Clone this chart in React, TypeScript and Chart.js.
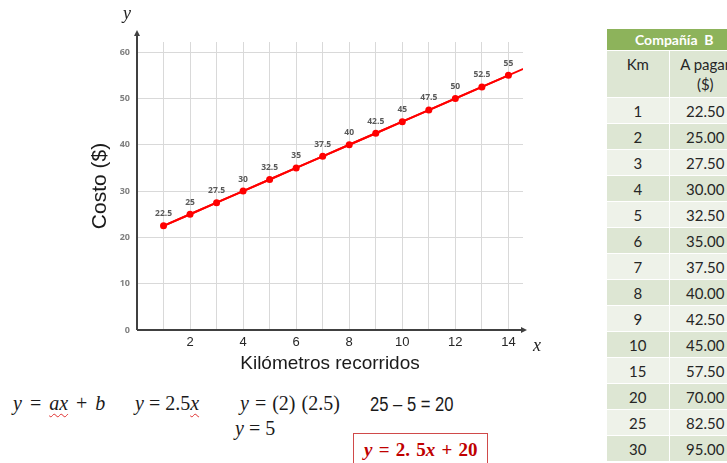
import React, { useEffect, useRef } from "react";
import { Chart, registerables } from "chart.js";

Chart.register(...registerables);

// ---- Data ----
const kmChart = [1, 2, 3, 4, 5, 6, 7, 8, 9, 10, 11, 12, 13, 14];
const costChart = [22.5, 25, 27.5, 30, 32.5, 35, 37.5, 40, 42.5, 45, 47.5, 50, 52.5, 55];
const tableKm = [1, 2, 3, 4, 5, 6, 7, 8, 9, 10, 15, 20, 25, 30];
const tableCost = [22.5, 25, 27.5, 30, 32.5, 35, 37.5, 40, 42.5, 45, 57.5, 70, 82.5, 95];
const xTickLabels = [2, 4, 6, 8, 10, 12, 14];
const yTickStep = 10;
const xMax = 14.55;
const yMax = 62.2;

const axesPlugin = {
  id: "axesArrows",
  beforeDatasetsDraw(chart: any) {
    const { ctx, chartArea } = chart;
    const l = chartArea.left;
    const b = chartArea.bottom;
    const topEnd = chartArea.top - 12;
    const rightEnd = chartArea.right + 4;
    ctx.save();
    ctx.strokeStyle = "#404040";
    ctx.fillStyle = "#404040";
    ctx.lineWidth = 2;
    ctx.beginPath();
    ctx.moveTo(l, b);
    ctx.lineTo(l, topEnd + 4);
    ctx.moveTo(l, b);
    ctx.lineTo(rightEnd - 4, b);
    ctx.stroke();
    ctx.beginPath();
    ctx.moveTo(l, topEnd);
    ctx.lineTo(l - 3, topEnd + 6);
    ctx.lineTo(l + 3, topEnd + 6);
    ctx.closePath();
    ctx.fill();
    ctx.beginPath();
    ctx.moveTo(rightEnd, b);
    ctx.lineTo(rightEnd - 6, b - 3);
    ctx.lineTo(rightEnd - 6, b + 3);
    ctx.closePath();
    ctx.fill();
    ctx.restore();
  },
};

const labelsPlugin = {
  id: "pointLabels",
  afterDatasetsDraw(chart: any) {
    const { ctx } = chart;
    const meta = chart.getDatasetMeta(0);
    ctx.save();
    ctx.fillStyle = "#595959";
    ctx.font = "bold 8.5px 'Open Sans'";
    ctx.textAlign = "center";
    ctx.textBaseline = "middle";
    meta.data.forEach((el: any, i: number) => {
      ctx.fillText(String(costChart[i]), el.x, el.y - 12);
    });
    ctx.restore();
  },
};

function CostChart() {
  const ref = useRef<HTMLCanvasElement | null>(null);
  useEffect(() => {
    if (!ref.current) return;
    const chart = new Chart(ref.current, {
      type: "line",
      data: {
        datasets: [
          {
            label: "Compañía B",
            data: kmChart.map((x, i) => ({ x, y: costChart[i] })),
            borderColor: "#ff0000",
            backgroundColor: "#ff0000",
            borderWidth: 2,
            pointRadius: 3.5,
            pointHoverRadius: 3.5,
            pointBorderWidth: 0,
            tension: 0,
            order: 0,
          },
          {
            label: "Tabla",
            data: tableKm.map((x, i) => ({ x, y: tableCost[i] })),
            borderColor: "#ff0000",
            borderWidth: 2,
            pointRadius: 0,
            pointHoverRadius: 0,
            tension: 0,
            clip: 0,
            order: 1,
          },
        ],
      },
      options: {
        responsive: false,
        animation: false,
        events: [],
        layout: { padding: { top: 42, right: 37, left: 0, bottom: 0 } },
        plugins: { legend: { display: false }, tooltip: { enabled: false } },
        scales: {
          x: {
            type: "linear",
            min: 0,
            max: xMax,
            afterFit: (s: any) => {
              s.height = 50;
            },
            border: { display: false },
            grid: { color: "#d9d9d9", drawTicks: false, lineWidth: 1 },
            ticks: {
              stepSize: 1,
              includeBounds: false,
              autoSkip: false,
              maxRotation: 0,
              padding: 5,
              color: "#262626",
              font: { family: "'Liberation Sans', Arial", size: 13 },
              callback: (v: any) => (xTickLabels.includes(Number(v)) ? String(v) : ""),
            },
            title: {
              display: true,
              text: "Kilómetros recorridos",
              color: "#1a1a1a",
              font: { family: "'Liberation Sans', Arial", size: 19 },
              padding: { top: 0, bottom: 5 },
            },
          },
          y: {
            type: "linear",
            min: 0,
            max: yMax,
            afterFit: (s: any) => {
              s.width = 137;
            },
            border: { display: false },
            grid: { color: "#d9d9d9", drawTicks: false, lineWidth: 1 },
            ticks: {
              stepSize: yTickStep,
              includeBounds: false,
              padding: 7,
              color: "#808080",
              font: { family: "'Open Sans'", size: 9, weight: "bold" },
            },
            title: {
              display: true,
              text: "Costo ($)",
              color: "#1a1a1a",
              font: { family: "'Liberation Sans', Arial", size: 21 },
              padding: { top: 88, bottom: 0 },
            },
          },
        },
      },
      plugins: [axesPlugin, labelsPlugin],
    } as any);
    return () => chart.destroy();
  }, []);
  return (
    <canvas
      ref={ref}
      width={560}
      height={380}
      style={{ position: "absolute", left: 0, top: 0, width: 560, height: 380 }}
    />
  );
}

const serif = "'Liberation Serif', 'DejaVu Serif', serif";
const wavy: React.CSSProperties = {
  textDecorationLine: "underline",
  textDecorationStyle: "wavy",
  textDecorationColor: "#e03030",
  textDecorationThickness: "1px",
  textUnderlineOffset: "3px",
};

function Table() {
  const light = "#eef2e9";
  const dark = "#dde6d3";
  const cellFont = "'Lato', 'Open Sans', sans-serif";
  return (
    <div
      style={{
        position: "absolute",
        left: 607,
        top: 29,
        width: 134,
        fontFamily: cellFont,
        color: "#262626",
        fontSize: 15,
      }}
    >
      <div
        style={{
          height: 22,
          background: "#8db35b",
          color: "#ffffff",
          fontWeight: "bold",
          fontSize: 14,
          lineHeight: "22px",
          paddingLeft: 28,
          boxSizing: "border-box",
          borderBottom: "1px solid #ffffff",
        }}
      >
        Compañía&nbsp;&nbsp;B
      </div>
      <div style={{ display: "flex", height: 47, background: dark, borderBottom: "1px solid #fff", boxSizing: "border-box" }}>
        <div style={{ width: 62, borderRight: "1px solid #fff", textAlign: "center", lineHeight: "20px", paddingTop: 3 }}>Km</div>
        <div style={{ width: 72, textAlign: "center", lineHeight: "20px", paddingTop: 3 }}>
          A pagar
          <br />
          ($)
        </div>
      </div>
      {tableKm.map((k, i) => (
        <div
          key={k}
          style={{
            display: "flex",
            height: 26,
            background: i % 2 === 0 ? light : dark,
            borderBottom: "1px solid #fff",
            boxSizing: "border-box",
            lineHeight: "26px",
          }}
        >
          <div style={{ width: 62, borderRight: "1px solid #fff", textAlign: "center" }}>{k}</div>
          <div style={{ width: 72, textAlign: "center" }}>{tableCost[i].toFixed(2)}</div>
        </div>
      ))}
    </div>
  );
}

const eqBase: React.CSSProperties = {
  position: "absolute",
  fontFamily: serif,
  fontSize: 20,
  color: "#1a1a1a",
  whiteSpace: "pre",
};

export default function App() {
  return (
    <div
      style={{
        position: "absolute",
        left: 0,
        top: 0,
        width: 727,
        height: 463,
        overflow: "hidden",
        background: "#ffffff",
      }}
    >
      <CostChart />
      <span style={{ position: "absolute", left: 123, top: 3, fontFamily: serif, fontStyle: "italic", fontSize: 18, color: "#222" }}>y</span>
      <span style={{ position: "absolute", left: 533, top: 335, fontFamily: serif, fontStyle: "italic", fontSize: 18, color: "#222" }}>x</span>
      <Table />
      <div style={{ ...eqBase, left: 13, top: 392, wordSpacing: 3 }}>
        <i>y</i>{" = "}<i style={wavy}>ax</i>{" + "}<i>b</i>
      </div>
      <div style={{ ...eqBase, left: 135, top: 392 }}>
        <i>y</i>{" = 2.5"}<i style={wavy}>x</i>
      </div>
      <div style={{ ...eqBase, left: 240, top: 392, wordSpacing: 1 }}>
        <i>y</i>{" = (2) (2.5)"}
      </div>
      <div
        style={{
          ...eqBase,
          left: 370,
          top: 393,
          fontFamily: "'Liberation Sans', Arial, sans-serif",
          transform: "scaleX(0.83)",
          transformOrigin: "left top",
        }}
      >
        25 – 5 = 20
      </div>
      <div style={{ ...eqBase, left: 235, top: 417 }}>
        <i>y</i>{" = 5"}
      </div>
      <div
        style={{
          position: "absolute",
          left: 353,
          top: 433,
          width: 135,
          height: 40,
          border: "1.5px solid #d04a4a",
          boxSizing: "border-box",
        }}
      />
      <div
        style={{
          ...eqBase,
          left: 364,
          top: 439,
          fontSize: 19,
          fontWeight: "bold",
          color: "#c00000",
          wordSpacing: 1.5,
        }}
      >
        <i>y</i>{" = 2. 5"}<i>x</i>{" + 20"}
      </div>
    </div>
  );
}
